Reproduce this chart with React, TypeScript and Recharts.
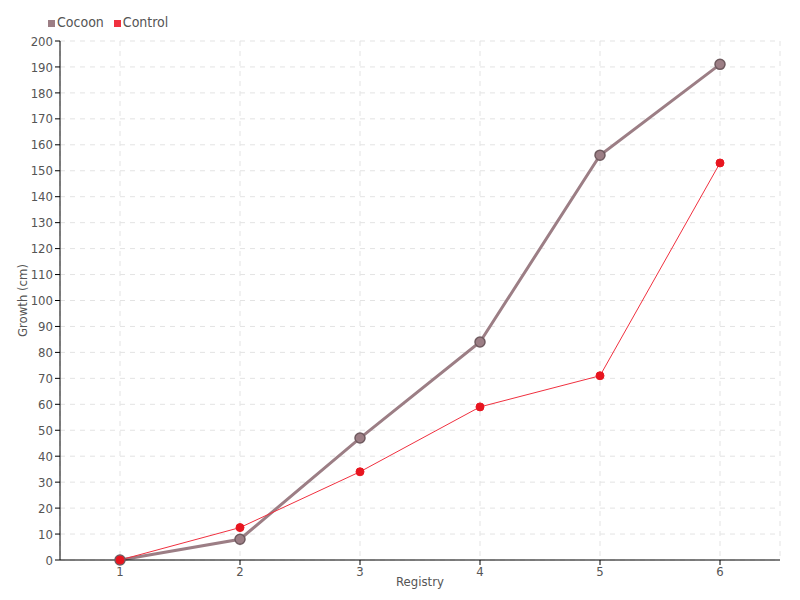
import React from 'react';
import { LineChart, Line, XAxis, YAxis, CartesianGrid, Legend } from 'recharts';

const registries = ['1', '2', '3', '4', '5', '6'];
const cocoonValues = [0, 8, 47, 84, 156, 191];
const controlValues = [0, 12.5, 34, 59, 71, 153];
const yTicks = [0, 10, 20, 30, 40, 50, 60, 70, 80, 90, 100, 110, 120, 130, 140, 150, 160, 170, 180, 190, 200];

const data = registries.map((r, i) => ({
  registry: r,
  Cocoon: cocoonValues[i],
  Control: controlValues[i],
}));

const FONT = '"DejaVu Sans Condensed", "Liberation Sans Narrow", sans-serif';

const App: React.FC = () => {
  return (
    <div style={{ position: 'absolute', left: 0, top: 0, width: 800, height: 600, background: '#fff', fontFamily: FONT }}>
      <LineChart width={800} height={600} data={data} margin={{ top: 25, right: 20, bottom: 10, left: 0 }}>
        <CartesianGrid stroke="#e3e3e3" strokeDasharray="5 5" />
        <XAxis
          dataKey="registry"
          padding={{ left: 60, right: 60 }}
          axisLine={{ stroke: '#000' }}
          tickLine={{ stroke: '#000' }}
          tick={{ fill: '#555', fontSize: 13, fontFamily: FONT }}
          tickSize={5}
          label={{ value: 'Registry', position: 'insideBottom', offset: 4, fill: '#555', fontSize: 13, fontFamily: FONT }}
        />
        <YAxis
          width={60}
          domain={[0, 200]}
          ticks={yTicks}
          interval={0}
          axisLine={{ stroke: '#000' }}
          tickLine={{ stroke: '#000' }}
          tick={{ fill: '#555', fontSize: 13, fontFamily: FONT }}
          tickSize={5}
          label={{ value: 'Growth (cm)', angle: -90, position: 'insideLeft', offset: 22, fill: '#555', fontSize: 13, fontFamily: FONT, style: { textAnchor: 'middle' } }}
        />
        <Legend
          verticalAlign="top"
          align="left"
          iconType="square"
          iconSize={7}
          wrapperStyle={{ top: 14, left: 48, fontSize: 14, color: '#555', fontFamily: FONT }}
          formatter={(value) => <span style={{ color: '#555', marginLeft: -2 }}>{value}</span>}
        />
        <Line
          dataKey="Cocoon"
          stroke="#9c7e85"
          strokeWidth={3}
          dot={{ r: 5, fill: '#9c7e85', stroke: '#6f5a5f', strokeWidth: 1.5 }}
          isAnimationActive={false}
        />
        <Line
          dataKey="Control"
          stroke="#f0303f"
          strokeWidth={1}
          dot={{ r: 4, fill: '#e8151f', stroke: '#e8151f', strokeWidth: 1 }}
          isAnimationActive={false}
        />
      </LineChart>
    </div>
  );
};

export default App;
